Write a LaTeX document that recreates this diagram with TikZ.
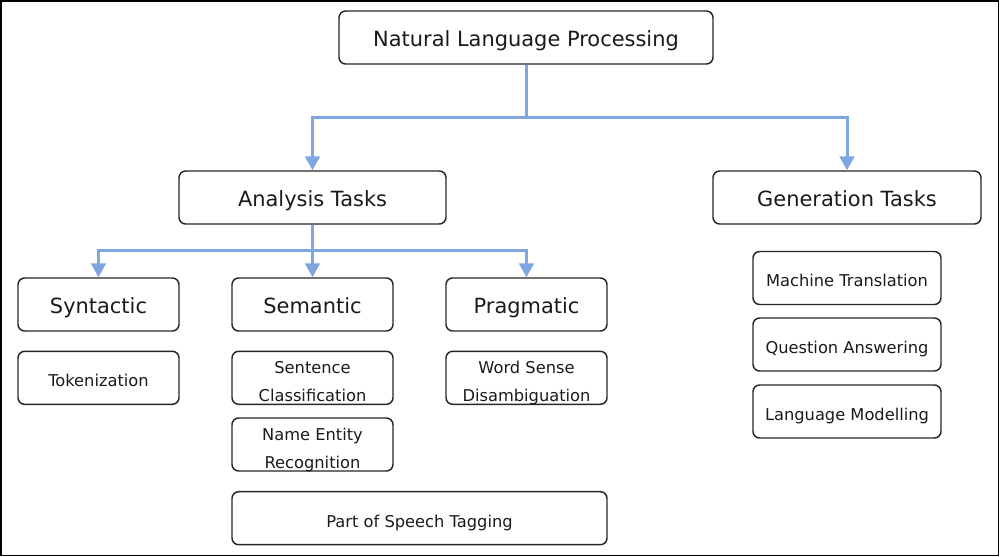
\documentclass[tikz,border=0pt]{standalone}
\usepackage{fontspec}
\setmainfont{DejaVu Sans}
\usetikzlibrary{arrows.meta}
\definecolor{conncol}{HTML}{7EA6E0}
\definecolor{boxcol}{HTML}{262626}
\definecolor{txtcol}{HTML}{1A1A1A}
\newcommand{\mytwo}[2]{\begin{tabular}[b]{@{}c@{}}#1\\#2\end{tabular}}
\begin{document}
\begin{tikzpicture}[x=0.75pt,y=-0.75pt,
  box/.style={draw=boxcol,line width=1.1pt,rounded corners=5pt,inner sep=0pt,
    minimum height=39.75pt,text=txtcol,anchor=center},
  big/.style={box,font=\fontsize{15.7pt}{19pt}\selectfont,text height=13pt,text depth=0pt},
  small/.style={box,font=\fontsize{12.2pt}{21.2pt}\selectfont,text height=13.4pt,text depth=0pt},
  smalltwo/.style={box,font=\fontsize{12.2pt}{21.2pt}\selectfont,text height=35.8pt,text depth=0pt},
  conn/.style={draw=conncol,line width=2.25pt},
  arr/.style={conn,-{Triangle[width=11pt,length=10.5pt]}}]
\useasboundingbox (0,0) rectangle (1000,557);
\draw[black,line width=1.1pt] (0.8,0.8) rectangle (998.5,555.5);
% top levels
\node[big,minimum width=280.5pt] (nlp) at (526,37.5) {Natural Language Processing};
\node[big,minimum width=200.25pt] (ana) at (312.5,197.5) {Analysis Tasks};
\node[big,minimum width=201pt] (gen) at (847,197.5) {Generation Tasks};
% analysis categories
\node[big,minimum width=120.75pt] (syn) at (98.5,304.5) {Syntactic};
\node[big,minimum width=120.75pt] (sem) at (312.5,304.5) {Semantic};
\node[big,minimum width=120.75pt] (pra) at (526.5,304.5) {Pragmatic};
% analysis tasks
\node[small,minimum width=120.75pt] (tok) at (98.5,377.8) {Tokenization};
\node[smalltwo,minimum width=120.75pt] (sc) at (312.5,377.8) {\mytwo{Sentence}{Classification}};
\node[smalltwo,minimum width=120.75pt] (wsd) at (526.5,377.8) {\mytwo{Word Sense}{Disambiguation}};
\node[smalltwo,minimum width=120.75pt] (ner) at (312.5,444.5) {\mytwo{Name Entity}{Recognition}};
\node[small,minimum width=281.25pt] (pos) at (419.5,518.2) {Part of Speech Tagging};
% generation tasks
\node[small,minimum width=141pt] (mt) at (847,278) {Machine Translation};
\node[small,minimum width=141pt] (qa) at (847,344.5) {Question Answering};
\node[small,minimum width=141pt] (lm) at (847,411.5) {Language Modelling};
% connectors
\coordinate (j1) at (526,117.3);
\coordinate (j2) at (312.5,250.5);
\draw[conn] (nlp.south) -- (j1);
\draw[arr] (j1) -| (ana.north);
\draw[arr] (j1) -| (gen.north);
\draw[conn] (ana.south) -- (j2);
\draw[arr] (j2) -| (syn.north);
\draw[arr] (j2) -- (sem.north);
\draw[arr] (j2) -| (pra.north);
\end{tikzpicture}
\end{document}
